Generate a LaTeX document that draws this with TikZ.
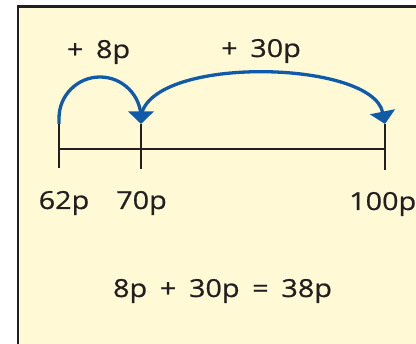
\documentclass[tikz,border=0pt]{standalone}
\usepackage{fontspec}
\setmainfont[FakeStretch=1.16, WordSpace=1.7, FakeBold=0.7]{Open Sans}
\usetikzlibrary{arrows.meta}
\definecolor{paper}{HTML}{FFF9D6}
\definecolor{ink}{HTML}{231F20}
\definecolor{jump}{HTML}{0F5BAA}
\tikzset{
  lbl/.style={font=\fontsize{24.8}{28}\selectfont, text=ink, inner sep=0pt, anchor=base},
  tick/.style={draw=ink, line width=2.4pt},
  hop/.style={draw=jump, line width=3.3pt, -{Triangle[width=25pt,length=12.5pt]}},
}
\begin{document}
\begin{tikzpicture}[x=1pt,y=-1pt]
\useasboundingbox (0,0) rectangle (416,344);
\clip (0,0) rectangle (416,344);
\fill[white] (0,0) rectangle (416,344);
\draw[draw=ink, fill=paper, line width=2.6pt] (18,6.6) rectangle (440,370);
% ticks
\coordinate (a1) at (59,124); \coordinate (a2) at (59,168);
\coordinate (b1) at (141,124); \coordinate (b2) at (141,169);
\coordinate (c1) at (385,124); \coordinate (c2) at (385,170);
\coordinate (la) at (59,149); \coordinate (lc) at (385,149);
\draw[tick] (a1) -- (a2);
\draw[tick] (b1) -- (b2);
\draw[tick] (c1) -- (c2);
\draw[draw=ink, line width=2.2pt] (la) -- (lc);
% labels
\node[lbl] (n62) at (64,209) {62p};
\node[lbl] (n70) at (141.5,209) {70p};
\node[lbl, anchor=base west] (n100) at (349,210) {100p};
\node[lbl] (j8) at (98.5,58) {+ 8p};
\node[lbl] (j30) at (261,57) {+ 30p};
\node[lbl] (eq) at (222.5,297) {8p + 30p = 38p};
% jumps
\coordinate (s2) at (141,116);
\draw[hop] (a1) -- (59,118) .. controls (59,95.4) and (77.4,77) .. (100,77)
  .. controls (122.6,77) and (141,95.4) .. (141,118) -- (b1);
\draw[hop] (s2) .. controls (152,55) and (372,60) .. (c1);
\end{tikzpicture}
\end{document}
